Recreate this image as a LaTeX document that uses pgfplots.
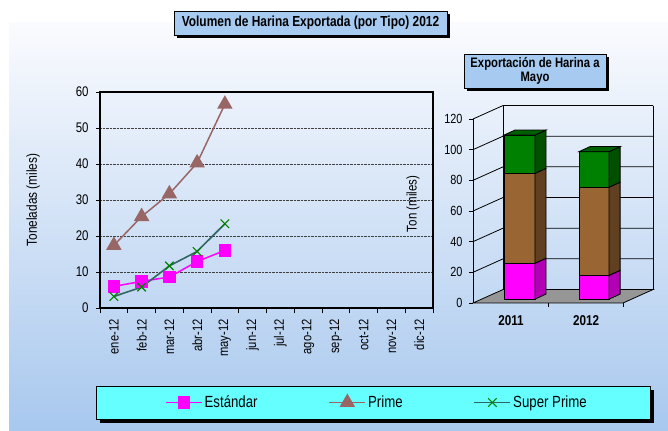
\documentclass[border=0pt]{standalone}
\usepackage{fontspec}
\setmainfont{Liberation Sans}[FakeStretch=0.82]
\usepackage{pgfplots}
\pgfplotsset{compat=1.18}
\definecolor{bgtop}{RGB}{250,251,254}
\definecolor{bgbot}{RGB}{168,200,238}
\definecolor{titlebox}{RGB}{166,202,240}
\definecolor{legbox}{RGB}{102,255,255}
\definecolor{prime}{RGB}{153,102,102}
\definecolor{sprline}{RGB}{51,102,102}
\definecolor{sprmark}{RGB}{0,128,0}
\definecolor{pinkF}{RGB}{255,0,255}
\definecolor{pinkS}{RGB}{180,0,180}
\definecolor{brownF}{RGB}{153,102,51}
\definecolor{brownS}{RGB}{96,64,32}
\definecolor{greenF}{RGB}{0,128,0}
\definecolor{greenS}{RGB}{0,80,0}
\definecolor{greenT}{RGB}{0,96,0}
\definecolor{floorgray}{RGB}{150,150,150}
\begin{document}
\begin{tikzpicture}
\useasboundingbox (0,0) rectangle (668bp,431bp);
\fill[white] (0,0) rectangle (668bp,431bp);
\shade[top color=bgtop, bottom color=bgbot] (9bp,0) rectangle (668bp,408bp);
% title 1
\fill[black] (177bp,393bp) rectangle (450bp,417bp);
\filldraw[fill=titlebox,draw=black,line width=0.8bp] (174bp,396bp) rectangle (447bp,420bp);
\node[font=\fontsize{14.6}{16}\selectfont\bfseries] at (310.5bp,408bp) {Volumen de Harina Exportada (por Tipo) 2012};
% title 2
\fill[black] (467bp,340bp) rectangle (609bp,374bp);
\filldraw[fill=titlebox,draw=black,line width=0.8bp] (464bp,343bp) rectangle (606bp,377bp);
\node[font=\fontsize{13.8}{14}\selectfont\bfseries,align=center] at (535bp,360bp) {Exportación de Harina a\\Mayo};
% legend box
\fill[black] (100bp,8bp) rectangle (654bp,41bp);
\filldraw[fill=legbox,draw=black,line width=0.8bp] (96bp,12bp) rectangle (650bp,45bp);

\begin{axis}[at={(100bp,123bp)}, anchor=south west, scale only axis,
  width=333bp, height=216bp,
  xmin=0.5, xmax=12.5, ymin=0, ymax=60,
  ytick={0,10,...,60},
  xtick={1,...,12},
  xticklabels={ene-12,feb-12,mar-12,abr-12,may-12,jun-12,jul-12,ago-12,sep-12,oct-12,nov-12,dic-12},
  minor xtick={0.5,1.5,...,12.5},
  tick align=outside, xtick pos=bottom, ytick pos=left,
  major tick length=4bp, minor tick length=5bp,
  major x tick style={draw=none},
  minor x tick style={black,line width=0.8bp},
  y tick style={black,line width=0.8bp},
  ymajorgrids, major grid style={black!75, densely dotted, line width=0.8bp},
  axis line style={line width=1.2bp},
  /pgf/number format/assume math mode=true,
  yticklabel style={font=\fontsize{14}{16}\selectfont, xshift=-4bp},
  xticklabel shift=4bp,
  xticklabel style={rotate=90, anchor=east, font=\fontsize{13.7}{15}\selectfont},
  ylabel={Toneladas (miles)},
  ylabel style={at={(axis description cs:-0.201,0.5)}, anchor=center, font=\fontsize{14.5}{16}\selectfont},
  legend columns=3,
  legend style={at={(axis description cs:0.195,-0.4375)}, anchor=west, draw=none, fill=none,
    inner sep=0pt, font=\fontsize{16.2}{18}\selectfont,
    /tikz/every even column/.append style={column sep=69bp}},
  legend image code/.code={\draw[mark repeat=2,mark phase=2,#1] plot coordinates {(0bp,0bp) (18bp,0bp) (36bp,0bp)};},
]
\addplot[pinkF, line width=1.5bp, mark=square*, mark size=5.5bp, mark options={fill=pinkF, draw=pinkF}]
  coordinates {(1,6.0) (2,7.4) (3,8.6) (4,12.9) (5,16.0)};
\addlegendentry{Estándar}
\addplot[prime, line width=1.5bp, mark=triangle*, mark size=7.5bp, mark options={fill=prime, draw=prime}]
  coordinates {(1,17.4) (2,25.4) (3,31.7) (4,40.3) (5,56.6)};
\addlegendentry{Prime}
\addplot[sprline, line width=1.6bp, mark=x, mark size=6bp, mark options={draw=sprmark, line width=1.1bp}]
  coordinates {(1,3.2) (2,5.8) (3,11.7) (4,15.7) (5,23.4)};
\addlegendentry{Super Prime}
\end{axis}

\begin{axis}[at={(473bp,128bp)}, anchor=south west, scale only axis,
  width=150bp, height=184bp,
  xmin=0, xmax=97.8, ymin=0, ymax=120, clip=false,
  axis y line*=left, axis x line=none,
  ytick={0,20,...,120},
  tick align=outside, major tick length=4bp,
  y tick style={black,line width=0.8bp},
  axis line style={line width=1bp},
  /pgf/number format/assume math mode=true,
  yticklabel style={font=\fontsize{13.3}{15}\selectfont, xshift=-3bp},
  ylabel={Ton (miles)},
  ylabel style={at={(axis description cs:-0.4,0.538)}, anchor=center, font=\fontsize{14.1}{16}\selectfont},
]
% walls and grid
\addplot[black, line width=0.8bp, forget plot] coordinates {(0,20) (19.6,28.8) (117.4,28.8)};
\addplot[black, line width=0.8bp, forget plot] coordinates {(0,40) (19.6,48.8) (117.4,48.8)};
\addplot[black, line width=0.8bp, forget plot] coordinates {(0,60) (19.6,68.8) (117.4,68.8)};
\addplot[black, line width=0.8bp, forget plot] coordinates {(0,80) (19.6,88.8) (117.4,88.8)};
\addplot[black, line width=0.8bp, forget plot] coordinates {(0,100) (19.6,108.8) (117.4,108.8)};
\addplot[black, line width=0.8bp, forget plot] coordinates {(0,120) (19.6,128.8) (117.4,128.8)};
\addplot[black, line width=0.8bp, forget plot] coordinates {(19.6,8.8) (19.6,128.8)};
\addplot[black, line width=0.8bp, forget plot] coordinates {(117.4,8.8) (117.4,128.8)};
% floor
\addplot[fill=floorgray, draw=black, line width=0.8bp, forget plot] coordinates {(0,0) (97.8,0) (117.4,8.8) (19.6,8.8)} -- cycle;
\addplot[black, line width=0.8bp, forget plot] coordinates {(48.9,0) (48.9,-2.6)};
\addplot[black, line width=0.8bp, forget plot] coordinates {(97.8,0) (97.8,-2.6)};
% 2011 bar: Estandar 23.4, Prime 58.6, Super Prime 25.0 (base 2.5)
\addplot[fill=pinkF, draw=black, line width=0.8bp, forget plot] coordinates {(20.2,2.5) (40.4,2.5) (40.4,25.9) (20.2,25.9)} -- cycle;
\addplot[fill=pinkS, draw=black, line width=0.8bp, forget plot] coordinates {(40.4,2.5) (47.6,5.8) (47.6,29.2) (40.4,25.9)} -- cycle;
\addplot[fill=brownF, draw=black, line width=0.8bp, forget plot] coordinates {(20.2,25.9) (40.4,25.9) (40.4,84.5) (20.2,84.5)} -- cycle;
\addplot[fill=brownS, draw=black, line width=0.8bp, forget plot] coordinates {(40.4,25.9) (47.6,29.2) (47.6,87.8) (40.4,84.5)} -- cycle;
\addplot[fill=greenF, draw=black, line width=0.8bp, forget plot] coordinates {(20.2,84.5) (40.4,84.5) (40.4,109.5) (20.2,109.5)} -- cycle;
\addplot[fill=greenS, draw=black, line width=0.8bp, forget plot] coordinates {(40.4,84.5) (47.6,87.8) (47.6,112.8) (40.4,109.5)} -- cycle;
\addplot[fill=greenT, draw=black, line width=0.8bp, forget plot] coordinates {(20.2,109.5) (40.4,109.5) (47.6,112.8) (27.4,112.8)} -- cycle;
% 2012 bar: Estandar 15.5, Prime 57.5, Super Prime 23.2 (base 2.5)
\addplot[fill=pinkF, draw=black, line width=0.8bp, forget plot] coordinates {(69.1,2.5) (88.7,2.5) (88.7,18.0) (69.1,18.0)} -- cycle;
\addplot[fill=pinkS, draw=black, line width=0.8bp, forget plot] coordinates {(88.7,2.5) (95.9,5.8) (95.9,21.3) (88.7,18.0)} -- cycle;
\addplot[fill=brownF, draw=black, line width=0.8bp, forget plot] coordinates {(69.1,18.0) (88.7,18.0) (88.7,75.5) (69.1,75.5)} -- cycle;
\addplot[fill=brownS, draw=black, line width=0.8bp, forget plot] coordinates {(88.7,18.0) (95.9,21.3) (95.9,78.8) (88.7,75.5)} -- cycle;
\addplot[fill=greenF, draw=black, line width=0.8bp, forget plot] coordinates {(69.1,75.5) (88.7,75.5) (88.7,98.7) (69.1,98.7)} -- cycle;
\addplot[fill=greenS, draw=black, line width=0.8bp, forget plot] coordinates {(88.7,75.5) (95.9,78.8) (95.9,102.0) (88.7,98.7)} -- cycle;
\addplot[fill=greenT, draw=black, line width=0.8bp, forget plot] coordinates {(69.1,98.7) (88.7,98.7) (95.9,102.0) (76.3,102.0)} -- cycle;
\node[font=\fontsize{14.3}{16}\selectfont\bfseries] at (axis cs:24.8,-11.7) {2011};
\node[font=\fontsize{14.3}{16}\selectfont\bfseries] at (axis cs:73.7,-11.7) {2012};
\end{axis}
\end{tikzpicture}
\end{document}
